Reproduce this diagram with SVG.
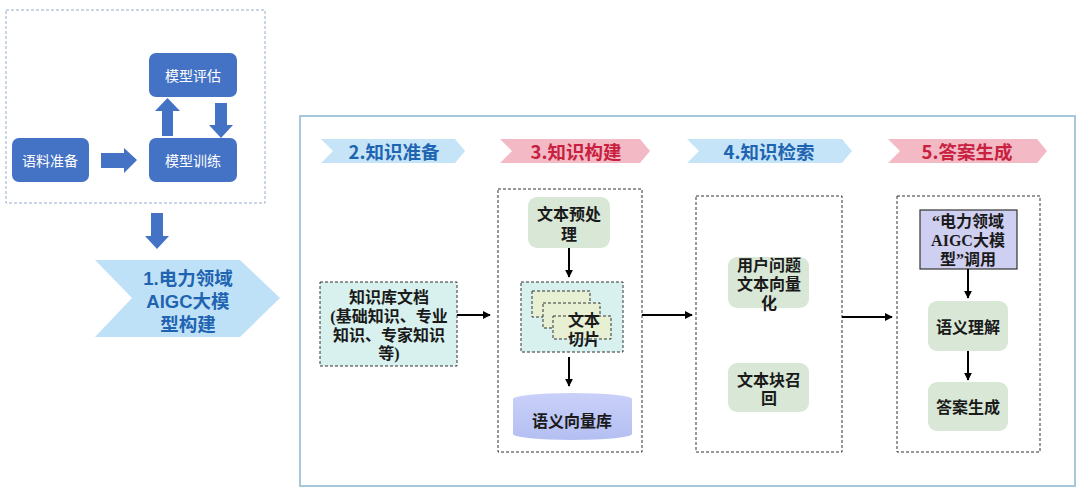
<svg xmlns="http://www.w3.org/2000/svg" width="1080" height="494" viewBox="0 0 1080 494">
<defs>
<style>
.bl{fill:#4472C4;}
.wt{fill:#fff;font-family:"Noto Sans CJK SC","Noto Sans",sans-serif;font-size:14px;text-anchor:middle;dominant-baseline:central;}
.ban{font-family:"Noto Sans CJK SC",sans-serif;font-weight:bold;font-size:18.5px;text-anchor:middle;dominant-baseline:central;}
.b1{font-family:"Liberation Sans","Noto Sans CJK SC",sans-serif;font-weight:bold;font-size:18.5px;text-anchor:middle;dominant-baseline:central;fill:#1F64B0;}
.st{fill:#fff;stroke:#333;stroke-width:1;stroke-dasharray:3 2;}
.gr{fill:#D9E8D6;}
.tx{fill:#1a1a1a;font-family:"Liberation Serif","Noto Sans CJK SC",serif;font-weight:bold;font-size:16px;text-anchor:middle;dominant-baseline:central;}
.cy{fill:#D8F1EE;stroke:#333;stroke-width:1;stroke-dasharray:3 2;}
.sl{fill:#E8F0D4;stroke:#333;stroke-width:1;stroke-dasharray:3 2;}
.ln{stroke:#000;stroke-width:2;fill:none;marker-end:url(#ah);}
</style>
<marker id="ah" viewBox="0 0 10 10" refX="9" refY="5" markerWidth="4" markerHeight="4" orient="auto"><path d="M0,0 L10,5 L0,10 z" fill="#000"/></marker>
<linearGradient id="cyl" x1="0" y1="0" x2="0" y2="1"><stop offset="0" stop-color="#C9D0F8"/><stop offset="1" stop-color="#B4BFF2"/></linearGradient>
</defs>

<!-- left part -->
<rect x="6" y="10" width="259" height="193" fill="#fff" stroke="#95ADCB" stroke-width="1" stroke-dasharray="3 2"/>
<g id="n-eval"><rect class="bl" x="149" y="53" width="88" height="44" rx="7"/><text class="wt" x="193" y="75">模型评估</text></g>
<g id="n-train"><rect class="bl" x="149" y="138" width="88" height="44" rx="7"/><text class="wt" x="193" y="160">模型训练</text></g>
<g id="n-corpus"><rect class="bl" x="12" y="138" width="77" height="44" rx="7"/><text class="wt" x="50" y="160">语料准备</text></g>
<g id="left-arrows">
<path class="bl" d="M101,153 L124,153 L124,148 L137,160 L124,173 L124,168 L101,168 z"/>
<path class="bl" d="M162,136 L162,111 L155,111 L167.5,98 L180,111 L173,111 L173,136 z"/>
<path class="bl" d="M215,103 L227,103 L227,125 L233,125 L221,138 L209,125 L215,125 z"/>
<path class="bl" d="M151,213 L163,213 L163,236 L169,236 L157,249 L145,236 L151,236 z"/>
</g>
<g id="n-stage1">
<path d="M95,260 L240,260 L280,298 L240,337 L95,337 L132,298 z" fill="#BFE1F7"/>
<text class="b1" x="188" y="278">1.电力领域</text>
<text class="b1" x="188" y="301">AIGC大模</text>
<text class="b1" x="188" y="324">型构建</text>
</g>

<!-- main frame -->
<rect x="300" y="116" width="775" height="370" fill="#fff" stroke="#A6C8DA" stroke-width="2"/>

<g id="banners">
<path d="M321,139 L455,139 L465,151 L455,163 L321,163 L333,151 z" fill="#C5E4F8"/>
<text class="ban" fill="#1F64B0" x="394" y="151">2.知识准备</text>
<path d="M500,139 L640,139 L650,151 L640,163 L500,163 L512,151 z" fill="#F3B9C5"/>
<text class="ban" fill="#C8213F" x="576" y="151">3.知识构建</text>
<path d="M687,139 L842,139 L852,151 L842,163 L687,163 L699,151 z" fill="#C5E4F8"/>
<text class="ban" fill="#1F64B0" x="769" y="151">4.知识检索</text>
<path d="M888,139 L1037,139 L1047,151 L1037,163 L888,163 L900,151 z" fill="#F3B9C5"/>
<text class="ban" fill="#C8213F" x="967" y="151">5.答案生成</text>
</g>

<g id="n-kbdoc">
<rect class="cy" x="320" y="282" width="137" height="84"/>
<text class="tx" x="389" y="297">知识库文档</text>
<text class="tx" x="389" y="316">(基础知识、专业</text>
<text class="tx" x="389" y="335">知识、专家知识</text>
<text class="tx" x="389" y="353">等)</text>
</g>

<g id="n-stage3">
<rect class="st" x="498" y="189" width="144" height="263"/>
</g>
<g id="n-pre"><rect class="gr" x="528" y="197" width="82" height="51" rx="9"/><text class="tx" x="569" y="214">文本预处</text><text class="tx" x="569" y="234">理</text></g>
<g id="n-slice">
<rect class="cy" x="521" y="282" width="102" height="70"/>
<rect class="sl" x="532" y="291" width="58" height="26"/>
<rect class="sl" x="543" y="303" width="57" height="25"/>
<rect class="sl" x="553" y="316" width="58" height="23"/>
<text class="tx" x="584" y="320">文本</text>
<text class="tx" x="584" y="339">切片</text>
</g>
<g id="n-vdb">
<path d="M513,399 A59.5,6 0 0 1 632,399 L632,434 A59.5,6 0 0 1 513,434 z" fill="url(#cyl)"/>
<text class="tx" x="572" y="421">语义向量库</text>
</g>

<g id="n-stage4"><rect class="st" x="696" y="196" width="146" height="256"/></g>
<g id="n-qvec"><rect class="gr" x="728" y="257" width="81" height="51" rx="9"/><text class="tx" x="769" y="265">用户问题</text><text class="tx" x="769" y="284">文本向量</text><text class="tx" x="769" y="303">化</text></g>
<g id="n-recall"><rect class="gr" x="728" y="363" width="81" height="49" rx="9"/><text class="tx" x="769" y="380">文本块召</text><text class="tx" x="769" y="398">回</text></g>

<g id="n-stage5"><rect class="st" x="897" y="196" width="143" height="256"/></g>
<g id="n-llm"><rect x="920" y="210" width="97" height="59" fill="#CFCFF1" stroke="#333" stroke-width="1.2"/>
<text class="tx" x="968" y="221">“电力领域</text><text class="tx" x="968" y="240">AIGC大模</text><text class="tx" x="968" y="259">型”调用</text></g>
<g id="n-sem"><rect class="gr" x="928" y="301" width="80" height="50" rx="9"/><text class="tx" x="968" y="327">语义理解</text></g>
<g id="n-ans"><rect class="gr" x="928" y="382" width="80" height="49" rx="9"/><text class="tx" x="968" y="407">答案生成</text></g>

<g id="connectors">
<line class="ln" x1="457" y1="315" x2="490" y2="315"/>
<line class="ln" x1="569" y1="248" x2="569" y2="277"/>
<line class="ln" x1="569" y1="357" x2="569" y2="386"/>
<line class="ln" x1="642" y1="315" x2="692" y2="315"/>
<line class="ln" x1="842" y1="317" x2="892" y2="317"/>
<line class="ln" x1="968" y1="269" x2="968" y2="298"/>
<line class="ln" x1="968" y1="351" x2="968" y2="380"/>
</g>
</svg>
